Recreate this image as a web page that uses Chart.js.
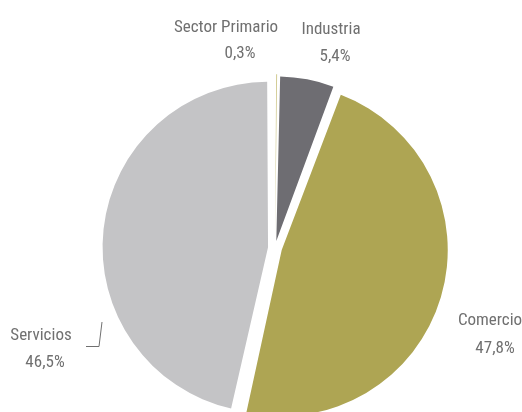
<!DOCTYPE html>
<html>
<head>
<meta charset="utf-8">
<script src="https://cdn.jsdelivr.net/npm/chart.js@4"></script>
<style>
html,body{margin:0;padding:0;background:#fff;}
#wrap{width:522px;height:412px;position:relative;}
</style>
</head>
<body>
<div id="wrap"><canvas id="c" width="522" height="412"></canvas></div>
<script>
const categories = ["Sector Primario", "Industria", "Comercio", "Servicios"];
const shares = [0.3, 5.4, 47.8, 46.5];
const percentLabels = ["0,3%", "5,4%", "47,8%", "46,5%"];
const sliceColors = ["#cfc88c", "#6e6d72", "#aea553", "#c4c4c6"];

// label placement relative to pie centre: [line1 dx, line1 dy, line2 dx, line2 dy]
const labelLayout = [
  [-49, -216, -35, -190],
  [ 56, -214,  60, -187],
  [215,   77, 220,  105],
  [-234,  92, -230, 119]
];

const labelPlugin = {
  id: 'pieLabels',
  afterDraw(chart) {
    const ctx = chart.ctx;
    const meta = chart.getDatasetMeta(0);
    const cx = meta.data[0].x, cy = meta.data[0].y;
    ctx.save();
    ctx.fillStyle = '#707070';
    ctx.font = '17px "Liberation Sans Narrow", "Roboto Condensed", "Arial Narrow", sans-serif';
    ctx.textAlign = 'center';
    ctx.textBaseline = 'alphabetic';
    categories.forEach((name, i) => {
      const L = labelLayout[i];
      ctx.fillText(name, cx + L[0], cy + L[1]);
      ctx.fillText(percentLabels[i], cx + L[2], cy + L[3]);
    });
    // leader line for Servicios
    ctx.strokeStyle = '#707070';
    ctx.lineWidth = 1;
    ctx.beginPath();
    ctx.moveTo(cx - 189, cy + 98.5);
    ctx.lineTo(cx - 176, cy + 98.5);
    ctx.lineTo(cx - 173, cy + 74);
    ctx.stroke();
    ctx.restore();
  }
};

new Chart(document.getElementById('c'), {
  type: 'pie',
  data: {
    labels: categories,
    datasets: [{
      data: shares,
      backgroundColor: sliceColors,
      borderWidth: 0,
      offset: 28,
      hoverOffset: 0,
      radius: 160,
      clip: false
    }]
  },
  options: {
    responsive: false,
    animation: false,
    layout: { padding: { left: 28, right: 0, top: 84, bottom: 0 } },
    plugins: { legend: { display: false }, tooltip: { enabled: false } },
    events: []
  },
  plugins: [labelPlugin]
});
</script>
</body>
</html>
